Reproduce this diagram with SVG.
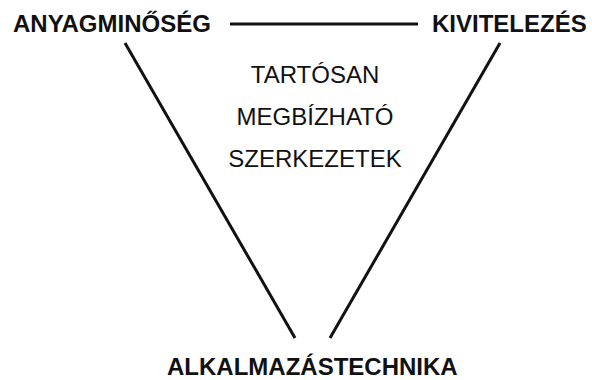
<svg xmlns="http://www.w3.org/2000/svg" width="592" height="380" viewBox="0 0 592 380">
<style>
.b{font-family:"Liberation Sans",Arial,sans-serif;font-weight:bold;font-size:24px;fill:#111}
.r{font-family:"Liberation Sans",Arial,sans-serif;font-size:24px;fill:#111;text-anchor:middle}
.ln{stroke:#111;stroke-width:3;fill:none;stroke-linecap:butt}
</style>
<rect width="592" height="380" fill="#fff"/>
<g id="connectors">
<line class="ln" x1="230" y1="24" x2="418" y2="24"/>
<line class="ln" x1="125" y1="43" x2="295" y2="338"/>
<line class="ln" x1="500" y1="43" x2="330" y2="338"/>
</g>
<g id="anyagminoseg"><text class="b" x="13" y="32">ANYAGMINŐSÉG</text></g>
<g id="kivitelezes"><text class="b" x="432" y="32">KIVITELEZÉS</text></g>
<g id="center"><text class="r" x="315" y="83">TARTÓSAN</text><text class="r" x="315" y="125">MEGBÍZHATÓ</text><text class="r" x="315" y="167">SZERKEZETEK</text></g>
<g id="alkalmazastechnika"><text class="b" x="167" y="375">ALKALMAZÁSTECHNIKA</text></g>
</svg>
